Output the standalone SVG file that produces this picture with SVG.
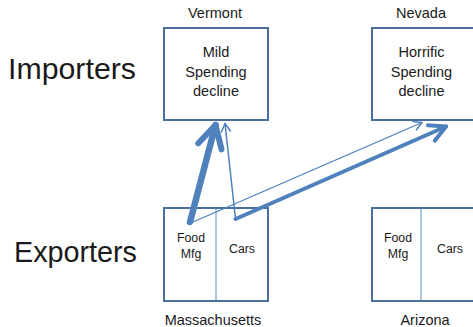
<svg xmlns="http://www.w3.org/2000/svg" width="473" height="327" viewBox="0 0 473 327">
<style>
text{font-family:"Liberation Sans",Arial,sans-serif;fill:#1a1a1a;text-anchor:middle}
.big{font-size:29px;text-anchor:start}
.lbl{font-size:14.5px}
.in{font-size:14.5px}
.sm{font-size:12.3px}
.box{fill:#fff;stroke:#4a6f9c;stroke-width:2}
.div{stroke:#95b3d7;stroke-width:1.5}
.arr{fill:none;stroke:#4f81bd;stroke-linecap:round;stroke-linejoin:round}
</style>
<defs>
<marker id="hThick" markerUnits="userSpaceOnUse" viewBox="-30 -20 40 40" refX="0" refY="0" markerWidth="40" markerHeight="40" orient="auto" overflow="visible">
<path d="M-22,-12 L0,0 L-22,12" fill="none" stroke="#4f81bd" stroke-width="6" stroke-linecap="round" stroke-linejoin="round"/>
</marker>
<marker id="hMed" markerUnits="userSpaceOnUse" viewBox="-30 -20 40 40" refX="0" refY="0" markerWidth="40" markerHeight="40" orient="auto" overflow="visible">
<path d="M-16,-8.5 L0,0 L-16,8.5" fill="none" stroke="#4f81bd" stroke-width="4" stroke-linecap="round" stroke-linejoin="round"/>
</marker>
<marker id="hThin" markerUnits="userSpaceOnUse" viewBox="-30 -20 40 40" refX="0" refY="0" markerWidth="40" markerHeight="40" orient="auto" overflow="visible">
<path d="M-8,-4.5 L0,0 L-8,4.5" fill="none" stroke="#4f81bd" stroke-width="1.5" stroke-linecap="round" stroke-linejoin="round"/>
</marker>
</defs>
<text class="big" x="8" y="79" textLength="128" lengthAdjust="spacingAndGlyphs">Importers</text>
<text class="big" x="14" y="262" textLength="123" lengthAdjust="spacingAndGlyphs">Exporters</text>
<g id="vermont">
<text class="lbl" x="215" y="18">Vermont</text>
<rect class="box" x="164" y="28" width="104" height="92"/>
<text class="in" x="216" y="57">Mild</text>
<text class="in" x="216" y="76.5">Spending</text>
<text class="in" x="216" y="96">decline</text>
</g>
<g id="nevada">
<text class="lbl" x="421" y="18">Nevada</text>
<rect class="box" x="372" y="28" width="104" height="92"/>
<text class="in" x="421.5" y="57">Horrific</text>
<text class="in" x="421.5" y="76.5">Spending</text>
<text class="in" x="421.5" y="96">decline</text>
</g>
<g id="massachusetts">
<rect class="box" x="164" y="208" width="104" height="93"/>
<line class="div" x1="216" y1="209" x2="216" y2="300"/>
<text class="sm" x="191" y="242">Food</text>
<text class="sm" x="191" y="258">Mfg</text>
<text class="sm" x="242" y="253">Cars</text>
<text class="lbl" x="213" y="325">Massachusetts</text>
</g>
<g id="arizona">
<rect class="box" x="372" y="208" width="104" height="93"/>
<line class="div" x1="421" y1="209" x2="421" y2="300"/>
<text class="sm" x="398" y="242">Food</text>
<text class="sm" x="398" y="258">Mfg</text>
<text class="sm" x="450" y="253">Cars</text>
<text class="lbl" x="425" y="325">Arizona</text>
</g>
<g id="connectors">
<line class="arr" x1="190" y1="222" x2="215.5" y2="125" stroke-width="6.5" marker-end="url(#hThick)"/>
<line class="arr" x1="235.5" y1="219" x2="225" y2="123.5" stroke-width="1.5" marker-end="url(#hThin)"/>
<line class="arr" x1="193" y1="222" x2="422" y2="122.5" stroke-width="1.3" marker-end="url(#hThin)"/>
<line class="arr" x1="235.5" y1="219" x2="446" y2="126.5" stroke-width="4" marker-end="url(#hMed)"/>
</g>
</svg>
